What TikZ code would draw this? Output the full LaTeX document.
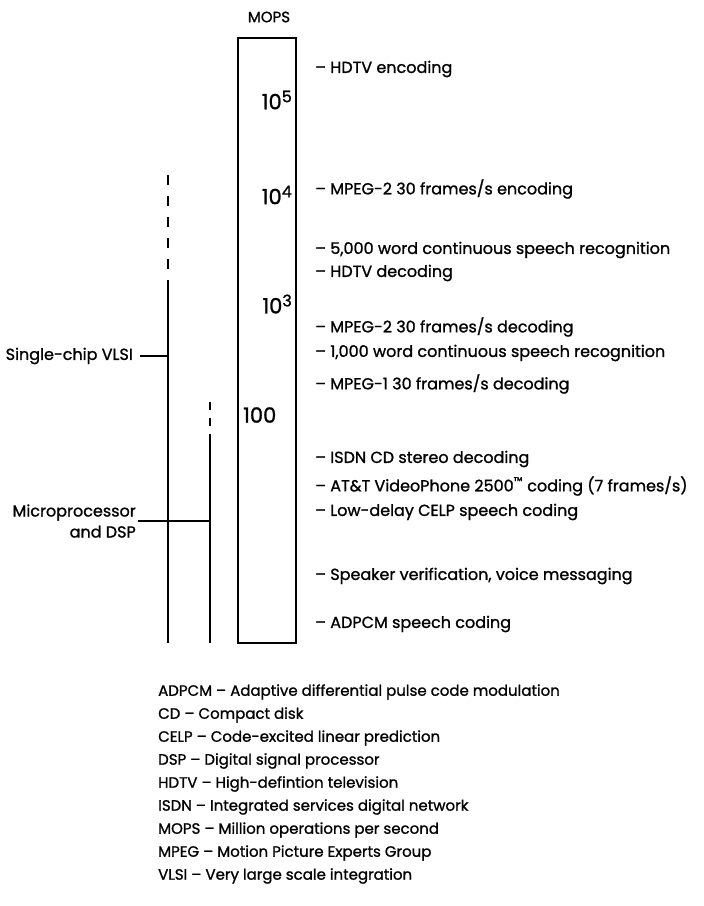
\documentclass[tikz,border=0pt]{standalone}
\usepackage{fontspec}
\setmainfont{Poppins}[BoldFont=Poppins, BoldFeatures={FakeBold=1.1}]
\newcommand{\supnum}[1]{\raisebox{7pt}{\fontsize{16}{16}\selectfont #1}}
\tikzset{
  app/.style={anchor=west, inner sep=0pt, font=\bfseries\fontsize{16}{18}\selectfont},
  power/.style={anchor=east, inner sep=0pt, font=\bfseries\fontsize{21}{23}\selectfont},
  gloss/.style={anchor=west, inner sep=0pt, font=\bfseries\fontsize{15}{18}\selectfont},
  side/.style={inner sep=0pt, align=right, font=\bfseries\fontsize{16}{18}\selectfont},
  rail/.style={line width=1.5pt},
}
\begin{document}
\begin{tikzpicture}[x=1pt, y=-1pt]
  \useasboundingbox (0,0) rectangle (704,906);

  % === MOPS scale ===
  \node[font=\bfseries\fontsize{15}{18}\selectfont] (mops) at (269,17) {MOPS};
  \node[draw, rail, minimum width=58pt, minimum height=605pt] (scale) at (267,340.5) {};

  \node[power] (e5) at (292,100) {10\supnum{5}};
  \node[power] (e4) at (292,195) {10\supnum{4}};
  \node[power] (e3) at (292,304) {10\supnum{3}};
  \node[power, anchor=west] (e2) at (243,415) {100};

  % === Applications ===
  \node[app] (hdtvenc) at (315,69)  {– HDTV encoding};
  \node[app] (mpegenc) at (315,189) {– MPEG-2 30 frames/s encoding};
  \node[app] (word5k)  at (315,250) {– 5,000 word continuous speech recognition};
  \node[app] (hdtvdec) at (315,273) {– HDTV decoding};
  \node[app] (mpegdec) at (315,327) {– MPEG-2 30 frames/s decoding};
  \node[app] (word1k)  at (315,353) {– 1,000 word continuous speech recognition};
  \node[app] (mpeg1)   at (315,384) {– MPEG-1 30 frames/s decoding};
  \node[app] (isdn)    at (315,459) {– ISDN CD stereo decoding};
  \node[app] (att)     at (315,486) {– AT\&T VideoPhone 2500\textsuperscript{™} coding (7 frames/s)};
  \node[app] (celp)    at (315,512) {– Low-delay CELP speech coding};
  \node[app] (speaker) at (315,576) {– Speaker verification, voice messaging};
  \node[app] (adpcm)   at (315,624) {– ADPCM speech coding};

  % === Technology ranges ===
  \coordinate (vtop) at (168,175);
  \coordinate (vmid) at (168,283);
  \coordinate (vbot) at (168,643);
  \coordinate (mtop) at (210,402);
  \coordinate (mmid) at (210,438);
  \coordinate (mbot) at (210,643);
  \draw[rail, dash pattern=on 10pt off 11pt] (vtop) -- (vmid);
  \draw[rail] (vmid) -- (vbot);
  \draw[rail, dash pattern=on 8pt off 8pt] (mtop) -- (mmid);
  \draw[rail] (mmid) -- (mbot);

  \node[side, anchor=east] (vlsi) at (133,356) {Single-chip VLSI};
  \coordinate (vtick) at (168,356);
  \draw[rail] ([xshift=7pt]vlsi.east) -- (vtick);

  \node[side, anchor=east] (micro) at (136,521) {Microprocessor\\[3pt]and DSP};
  \coordinate (mtick) at (210,521);
  \draw[rail] ([xshift=2pt]micro.east) -- (mtick);

  % === Glossary ===
  \node[gloss] (g1) at (158,692) {ADPCM – Adaptive differential pulse code modulation};
  \node[gloss] (g2) at (158,715) {CD – Compact disk};
  \node[gloss] (g3) at (158,738) {CELP – Code-excited linear prediction};
  \node[gloss] (g4) at (158,761) {DSP – Digital signal processor};
  \node[gloss] (g5) at (158,784) {HDTV – High-defintion television};
  \node[gloss] (g6) at (158,807) {ISDN – Integrated services digital network};
  \node[gloss] (g7) at (158,830) {MOPS – Million operations per second};
  \node[gloss] (g8) at (158,853) {MPEG – Motion Picture Experts Group};
  \node[gloss] (g9) at (158,876) {VLSI – Very large scale integration};
\end{tikzpicture}
\end{document}
